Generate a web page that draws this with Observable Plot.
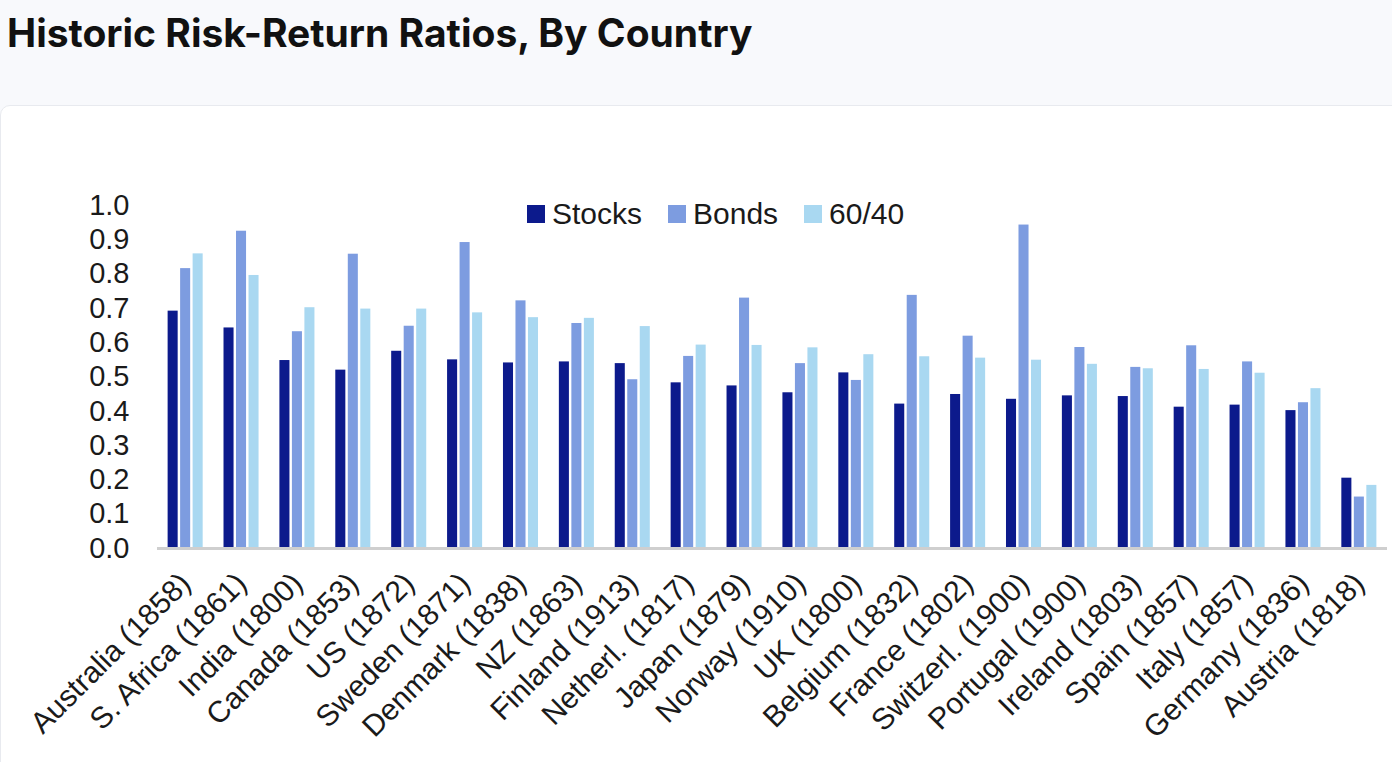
<!DOCTYPE html>
<html><head><meta charset="utf-8">
<script src="https://cdn.jsdelivr.net/npm/d3@7"></script>
<script src="https://cdn.jsdelivr.net/npm/@observablehq/plot@0.6"></script>
<style>
html,body{margin:0;padding:0;background:#f8f9fc;width:1392px;height:762px;overflow:hidden;font-family:"Liberation Sans",Arial,sans-serif;}
#title{position:absolute;left:7px;top:9px;margin:0;font:700 39px Inter,sans-serif;color:#111;white-space:nowrap}
#card{position:absolute;left:0;top:105px;width:1400px;height:700px;background:#fff;border:1px solid #e8eaef;border-radius:10px;}
#chart{position:absolute;left:1px;top:107px;width:1391px}
#legend{position:absolute;top:197px;left:527px;}
#legend .lg-swatch{margin-right:26px !important;}
#legend .lg-swatch > svg{margin-right:7px !important;}
</style>
</head><body>
<h1 id="title">Historic Risk-Return Ratios, By Country</h1>
<div id="card"></div>
<div id="chart"></div>
<div id="legend"></div>
<script>
const countries = ["Australia (1858)","S. Africa (1861)","India (1800)","Canada (1853)","US (1872)","Sweden (1871)","Denmark (1838)","NZ (1863)","Finland (1913)","Netherl. (1817)","Japan (1879)","Norway (1910)","UK (1800)","Belgium (1832)","France (1802)","Switzerl. (1900)","Portugal (1900)","Ireland (1803)","Spain (1857)","Italy (1857)","Germany (1836)","Austria (1818)"];
const stocks = [0.692,0.643,0.548,0.520,0.575,0.550,0.541,0.544,0.539,0.483,0.474,0.454,0.512,0.421,0.449,0.435,0.445,0.443,0.412,0.418,0.402,0.205];
const bonds  = [0.816,0.925,0.632,0.858,0.648,0.892,0.722,0.656,0.492,0.560,0.730,0.539,0.490,0.738,0.619,0.943,0.586,0.528,0.591,0.544,0.425,0.150];
const sixtyForty = [0.859,0.796,0.702,0.698,0.698,0.687,0.673,0.671,0.647,0.593,0.592,0.585,0.565,0.559,0.555,0.549,0.537,0.524,0.522,0.511,0.466,0.184];
const seriesNames = ["Stocks","Bonds","60/40"];
const seriesColors = ["#0c1a8c","#7d9ce0","#a9d8f1"];
const yTicks = [0,0.1,0.2,0.3,0.4,0.5,0.6,0.7,0.8,0.9,1.0];

const seriesValues = [stocks, bonds, sixtyForty];
const rows = [];
seriesNames.forEach((s, i) => countries.forEach((c, j) => rows.push({country: c, series: s, value: seriesValues[i][j]})));

// bar slots inside each country band (band ≈ 35px: three 10px bars, 2.5px gaps)
const insets = [[0, 25], [12.5, 12.5], [25, 0]];

const plot = Plot.plot({
  width: 1391,
  height: 655,
  marginLeft: 156,
  marginRight: 5,
  marginTop: 98,
  marginBottom: 214,
  style: {fontFamily: "'Liberation Sans', Arial, sans-serif", fontSize: "30px", color: "#1a1a1a", background: "transparent", overflow: "visible"},
  x: {domain: countries, paddingInner: 0.373, paddingOuter: 0.19, round: false},
  y: {domain: [0, 1]},
  color: {domain: seriesNames, range: seriesColors},
  marks: [
    Plot.axisY({ticks: yTicks, tickFormat: d3.format(".1f"), tickSize: 0, tickPadding: 28, fontSize: 29, label: null}),
    Plot.axisX({tickSize: 0, tickRotate: -45, tickPadding: 30, fontSize: 30, label: null}),
    ...seriesNames.map((s, i) => Plot.barY(rows.filter(d => d.series === s), {
      x: "country", y: "value", fill: "series", insetLeft: insets[i][0], insetRight: insets[i][1]
    })),
    Plot.ruleY([0], {stroke: "#cfcfcf", strokeWidth: 3})
  ]
});
document.getElementById("chart").appendChild(plot);

const legend = Plot.legend({
  color: {domain: seriesNames, range: seriesColors},
  swatchSize: 18,
  className: "lg",
  style: {fontFamily: "'Liberation Sans', Arial, sans-serif", fontSize: "30px", color: "#1a1a1a"}
});
document.getElementById("legend").appendChild(legend);
</script>
</body></html>
